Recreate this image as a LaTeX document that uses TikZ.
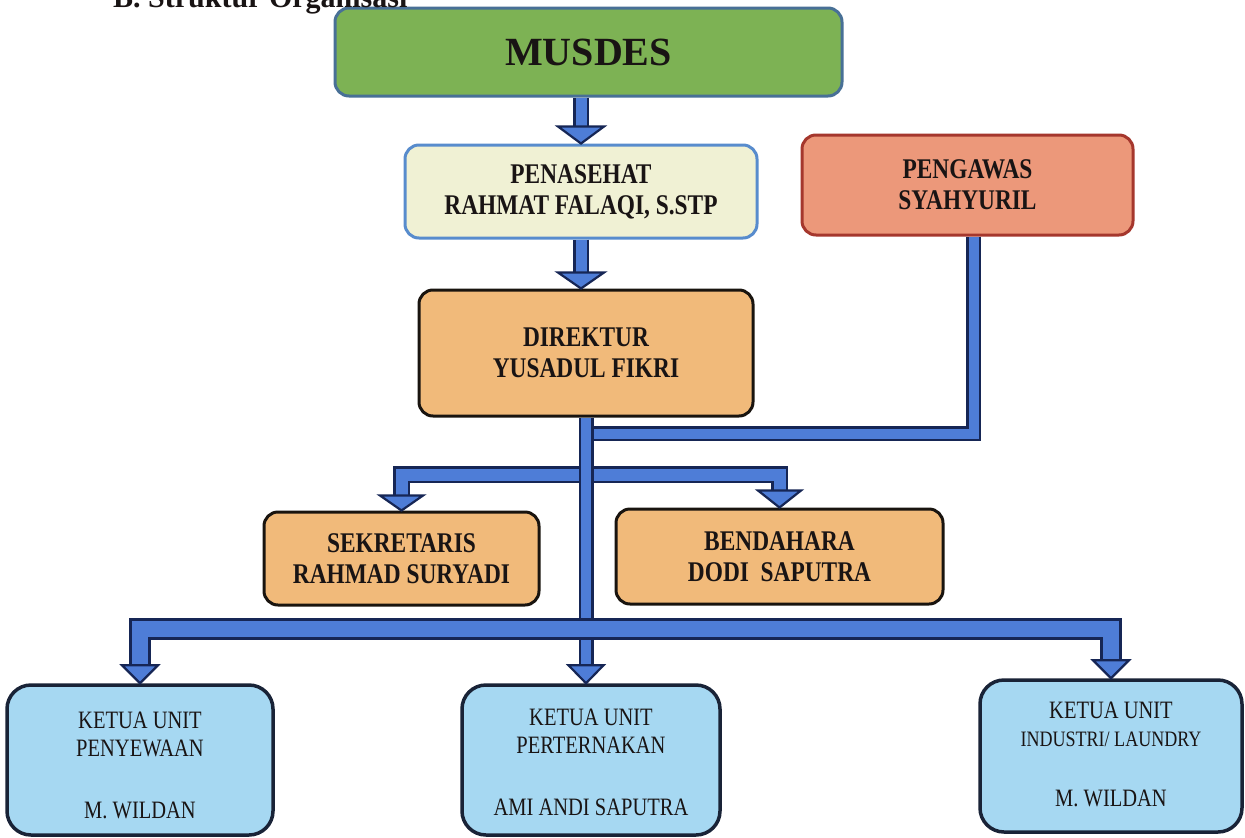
\documentclass[tikz,border=0pt]{standalone}
\usepackage{fontspec}
\setmainfont{Liberation Serif}
\newfontfamily\condf{Liberation Serif}[FakeStretch=0.82]
\usetikzlibrary{calc}
\definecolor{musfill}{RGB}{125,178,84}
\definecolor{musedge}{RGB}{72,112,150}
\definecolor{penfill}{RGB}{240,241,212}
\definecolor{penedge}{RGB}{88,140,205}
\definecolor{pengfill}{RGB}{236,152,122}
\definecolor{pengedge}{RGB}{165,55,45}
\definecolor{orfill}{RGB}{241,186,122}
\definecolor{oredge}{RGB}{25,20,15}
\definecolor{ketfill}{RGB}{166,216,242}
\definecolor{ketedge}{RGB}{25,35,55}
\definecolor{bandfill}{RGB}{78,125,215}
\definecolor{bandedge}{RGB}{22,38,85}
\definecolor{txt}{RGB}{25,20,20}
\newcommand\dhead[3]{\filldraw[head] ($(#1)+(-#2/2,-#3)$) -- ($(#1)+(#2/2,-#3)$) -- (#1) -- cycle;}
\begin{document}
\begin{tikzpicture}[x=1pt,y=-1pt,
  box/.style={rounded corners=14pt, line width=3pt, inner sep=0pt, align=center, text=txt,
    font=\condf\bfseries\fontsize{28.5}{31}\selectfont},
  band/.style 2 args={draw=bandedge, line width=#1, line join=miter, postaction={draw=bandfill, line width=#2}},
  head/.style={fill=bandfill, draw=bandedge, line width=2.2pt, line join=miter},
  ketua/.style={rounded corners=24pt, line width=3.5pt, draw=ketedge, fill=ketfill, inner sep=0pt},
  kt/.style={anchor=base, text=txt, inner sep=0pt, font=\condf\fontsize{25}{28}\selectfont}
]
\useasboundingbox (0,0) rectangle (1245,838);
\clip (0,0) rectangle (1245,838);
\fill[white] (0,0) rectangle (1245,838);

% boxes
\node[box, draw=musedge, fill=musfill, minimum width=507pt, minimum height=88pt,
  font=\bfseries\fontsize{40}{44}\selectfont] (mus) at (588.5,52) {MUSDES};
\node[box, draw=penedge, fill=penfill, minimum width=352pt, minimum height=93pt] (pen) at (581,191.5) {PENASEHAT\\RAHMAT FALAQI, S.STP};
\node[box, draw=pengedge, fill=pengfill, minimum width=331pt, minimum height=100pt] (peng) at (967.5,185) {PENGAWAS\\SYAHYURIL};
\node[box, draw=oredge, fill=orfill, minimum width=334pt, minimum height=126pt] (dir) at (586,353) {DIREKTUR\\YUSADUL FIKRI};
\node[box, draw=oredge, fill=orfill, minimum width=275pt, minimum height=93pt] (sek) at (401.5,558.5) {SEKRETARIS\\RAHMAD SURYADI};
\node[box, draw=oredge, fill=orfill, minimum width=327pt, minimum height=95pt] (bend) at (779.5,556.5) {BENDAHARA\\DODI\ \ SAPUTRA};

% heading (cut off at top edge, as in the source)
\node[anchor=base west, inner sep=0pt, text=txt, font=\bfseries\fontsize{30}{34}\selectfont] (head) at (113,7) {B. Struktur Organisasi};

\node[ketua, minimum width=266pt, minimum height=150pt] (k1) at (140,760) {};
\node[ketua, minimum width=258pt, minimum height=150pt] (k2) at (591,760) {};
\node[ketua, minimum width=262pt, minimum height=152pt] (k3) at (1111,756) {};

\node[kt] (k1a) at ($(k1.north)+(0,45)$) {KETUA UNIT};
\node[kt] (k1b) at ($(k1.north)+(0,73)$) {PENYEWAAN};
\node[kt] (k1c) at ($(k1.north)+(0,135)$) {M. WILDAN};
\node[kt] (k2a) at ($(k2.north)+(0,42)$) {KETUA UNIT};
\node[kt] (k2b) at ($(k2.north)+(0,70)$) {PERTERNAKAN};
\node[kt] (k2c) at ($(k2.north)+(0,132)$) {AMI ANDI SAPUTRA};
\node[kt] (k3a) at ($(k3.north)+(0,40)$) {KETUA UNIT};
\node[kt, font=\condf\fontsize{22}{25}\selectfont] (k3b) at ($(k3.north)+(0,68)$) {INDUSTRI/ LAUNDRY};
\node[kt] (k3c) at ($(k3.north)+(0,128)$) {M. WILDAN};

% junction coordinates
\coordinate (t2) at (pen.south |- dir.north);
\coordinate (t5) at (dir.south |- k2.north);
\coordinate (pv) at ($(peng.south)+(6,0)$);
\coordinate (pj) at ($(dir.south)+(0,16)$);
\coordinate (sj) at ($(dir.south)+(0,57)$);
\coordinate (bj) at ($(dir.south)+(0,211)$);

% connectors
\draw[band={16pt}{11pt}] (pen.north |- mus.south) -- ($(pen.north)+(0,-16)$);
\draw[band={16pt}{11pt}] (pen.south) -- ($(t2)+(0,-16)$);
\draw[band={15pt}{10pt}] (pv) -- (pv |- pj) -- (pj);
\draw[band={17pt}{12pt}] ($(sek.north)+(0,-15)$) -- (sek.north |- sj) -- (bend.north |- sj) -- ($(bend.north)+(0,-16)$);
\draw[band={15pt}{10pt}] (dir.south) -- ($(t5)+(0,-18)$);
\draw[band={22pt}{16pt}] ($(k1.north)+(0,-18)$) -- (k1.north |- bj) -- (k3.north |- bj) -- ($(k3.north)+(0,-18)$);

\dhead{pen.north}{46}{17}
\dhead{t2}{46}{16}
\dhead{sek.north}{43}{15}
\dhead{bend.north}{43}{17}
\dhead{k1.north}{36}{18}
\dhead{t5}{35}{18}
\dhead{k3.north}{36}{18}
\end{tikzpicture}
\end{document}
